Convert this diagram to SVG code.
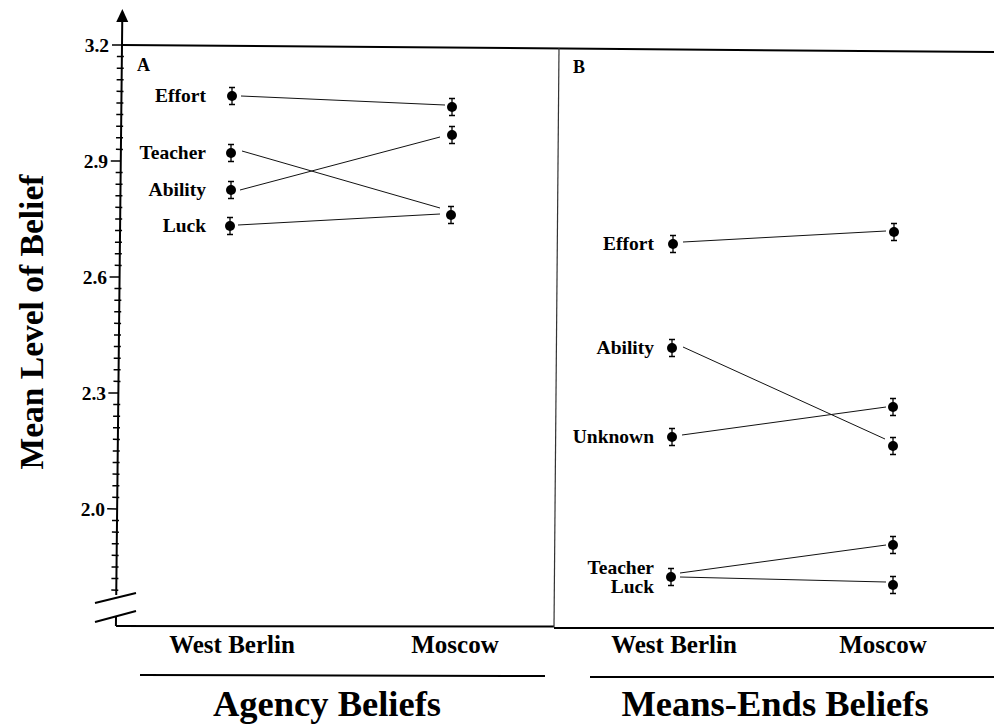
<svg xmlns="http://www.w3.org/2000/svg" width="994" height="724" viewBox="0 0 994 724">
<style>
text{font-family:"Liberation Serif","Times New Roman",serif;font-weight:bold;fill:#000}
.lab{font-size:19.5px;text-anchor:end}
.tick{font-size:19.5px;text-anchor:end}
.pan{font-size:18px}
.cat{font-size:25px;text-anchor:middle}
.grp{font-size:36.5px;text-anchor:middle}
.ax{stroke:#000;stroke-width:2;fill:none}
.tk{stroke:#000;stroke-width:1.5;fill:none}
.ln{stroke:#111;stroke-width:1;fill:none}
.eb{stroke:#000;stroke-width:1.3;fill:none}
.dot{fill:#000}
</style>
<defs>
<g id="pt">
<path class="eb" d="M0,-8.5V8.5M-3,-8.5H3M-3,8.5H3"/>
<circle class="dot" r="5"/>
</g>
</defs>

<g id="axes">
<g transform="rotate(0.6 122 45)">
<polygon points="122,9 116,22 128,22" fill="#000"/>
<path class="ax" d="M122,18V595M122,617V626"/>
<path class="tk" d="M112,45h10M112,161h10M112,277h10M112,393h10M112,509h10"/>
<path class="tk" d="M117,56.6h7M117,68.2h7M117,79.8h7M117,91.4h7M117,103h7M117,114.6h7M117,126.2h7M117,137.8h7M117,149.4h7M117,172.6h7M117,184.2h7M117,195.8h7M117,207.4h7M117,219h7M117,230.6h7M117,242.2h7M117,253.8h7M117,265.4h7M117,288.6h7M117,300.2h7M117,311.8h7M117,323.4h7M117,335h7M117,346.6h7M117,358.2h7M117,369.8h7M117,381.4h7M117,404.6h7M117,416.2h7M117,427.8h7M117,439.4h7M117,451h7M117,462.6h7M117,474.2h7M117,485.8h7M117,497.4h7M117,520.6h7M117,532.2h7M117,543.8h7M117,555.4h7M117,567h7M117,578.6h7M117,590.2h7"/>
</g>
<path class="ax" d="M95,603L136,593M95,622L136,611"/>
<path class="ax" d="M122,45L994,52"/>
<path class="ax" d="M116,626L554,626.5M554,628L994,628"/>
<path stroke="#333" stroke-width="1.2" fill="none" d="M559,48L554,627"/>
<path class="ax" d="M140,675L545,676M590,677L994,677"/>
</g>

<g id="tick-labels">
<text class="tick" x="109" y="51.5">3.2</text>
<text class="tick" x="108" y="167.5">2.9</text>
<text class="tick" x="107" y="283.5">2.6</text>
<text class="tick" x="106" y="399.5">2.3</text>
<text class="tick" x="105" y="515.5">2.0</text>
</g>

<text id="y-title" transform="translate(43 322) rotate(-90)" font-size="33.5" text-anchor="middle">Mean Level of Belief</text>

<g id="panel-a">
<text class="pan" x="137" y="71">A</text>
<g id="connectors-a">
<path class="ln" d="M241,96L445,105"/>
<path class="ln" d="M242,151L440,208"/>
<path class="ln" d="M240,190L440,137"/>
<path class="ln" d="M238,225L440,214"/>
</g>
<g id="a-wb-effort"><use href="#pt" x="232" y="96"/><text class="lab" x="206" y="102">Effort</text></g>
<g id="a-wb-teacher"><use href="#pt" x="231" y="153"/><text class="lab" x="206" y="159">Teacher</text></g>
<g id="a-wb-ability"><use href="#pt" x="231" y="190"/><text class="lab" x="206" y="196">Ability</text></g>
<g id="a-wb-luck"><use href="#pt" x="230" y="226"/><text class="lab" x="206" y="232">Luck</text></g>
<g id="a-m-effort"><use href="#pt" x="452" y="107"/></g>
<g id="a-m-ability"><use href="#pt" x="452" y="135"/></g>
<g id="a-m-teacher-luck"><use href="#pt" x="451" y="215"/></g>
</g>

<g id="panel-b">
<text class="pan" x="573" y="73">B</text>
<g id="connectors-b">
<path class="ln" d="M683,242L886,231"/>
<path class="ln" d="M683,347L885,439"/>
<path class="ln" d="M682,435L886,407"/>
<path class="ln" d="M680,573L886,545"/>
<path class="ln" d="M680,577L886,582"/>
</g>
<g id="b-wb-effort"><use href="#pt" x="673" y="244"/><text class="lab" x="654" y="250">Effort</text></g>
<g id="b-wb-ability"><use href="#pt" x="672" y="348"/><text class="lab" x="654" y="354">Ability</text></g>
<g id="b-wb-unknown"><use href="#pt" x="672" y="437"/><text class="lab" x="654" y="443">Unknown</text></g>
<g id="b-wb-teacher-luck"><use href="#pt" x="671" y="577"/><text class="lab" x="654" y="574">Teacher</text><text class="lab" x="654" y="593">Luck</text></g>
<g id="b-m-effort"><use href="#pt" x="894" y="232"/></g>
<g id="b-m-ability"><use href="#pt" x="893" y="446"/></g>
<g id="b-m-unknown"><use href="#pt" x="893" y="407"/></g>
<g id="b-m-teacher"><use href="#pt" x="893" y="545"/></g>
<g id="b-m-luck"><use href="#pt" x="893" y="585"/></g>
</g>

<g id="x-labels">
<text class="cat" x="232" y="653">West Berlin</text>
<text class="cat" x="455" y="653">Moscow</text>
<text class="cat" x="674" y="653">West Berlin</text>
<text class="cat" x="883" y="653">Moscow</text>
<text class="grp" x="327" y="716">Agency Beliefs</text>
<text class="grp" x="775" y="716">Means-Ends Beliefs</text>
</g>
</svg>
